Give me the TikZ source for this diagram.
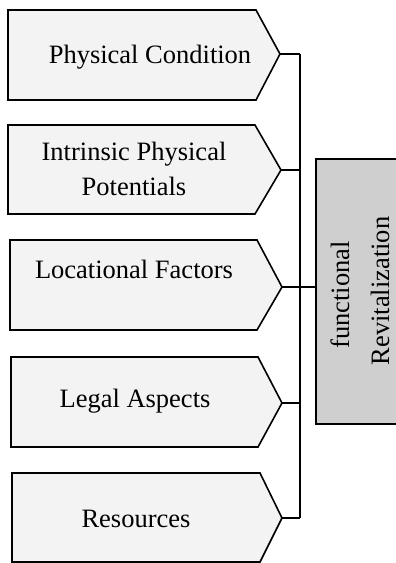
\documentclass[tikz,border=0pt]{standalone}
\usepackage{fontspec}
\setmainfont{Liberation Serif}
\definecolor{boxfill}{HTML}{F3F3F3}
\definecolor{greyfill}{HTML}{CFCFCF}
\begin{document}
\begin{tikzpicture}[x=1pt,y=-1pt,
  pent/.style={draw=black, fill=boxfill, line width=1.6pt, line join=miter},
  bus/.style={draw=black, line width=1.5pt},
  lbl/.style={inner sep=0pt, font=\fontsize{26.5}{32}\selectfont, text=black},
  greybox/.style={draw=black, fill=greyfill, line width=1.6pt, inner sep=0pt}]
\useasboundingbox (0,0) rectangle (396,563);
\begin{scope}
\clip (0,0) rectangle (396,563);
% pentagons
\draw[pent] (8,10) -- (256,10) -- (280,54) -- (256,100) -- (8,100) -- cycle;
\coordinate (tip1) at (280,54);
\draw[pent] (8,125) -- (255,125) -- (281,170) -- (255,214) -- (8,214) -- cycle;
\coordinate (tip2) at (281,170);
\draw[pent] (10,240) -- (257,240) -- (282,287) -- (257,330) -- (10,330) -- cycle;
\coordinate (tip3) at (282,287);
\draw[pent] (11,357) -- (258,357) -- (282,403) -- (258,447) -- (11,447) -- cycle;
\coordinate (tip4) at (282,403);
\draw[pent] (12,473) -- (260,473) -- (282,518) -- (260,562) -- (12,562) -- cycle;
\coordinate (tip5) at (282,518);
% grey box
\node[greybox, anchor=north west, minimum width=100, minimum height=265] (fr) at (315,158) {};
\end{scope}
% labels
\node[lbl, anchor=base] (t1) at (150,63) {Physical Condition};
\node[lbl, anchor=base] (t2a) at (134,160) {Intrinsic Physical};
\node[lbl, anchor=base] (t2b) at (134,195) {Potentials};
\node[lbl, anchor=base] (t3) at (134,278) {Locational Factors};
\node[lbl, anchor=base] (t4) at (135,407) {Legal Aspects};
\node[lbl, anchor=base] (t5) at (136,527) {Resources};
\node[lbl, anchor=base, rotate=90] (f1) at (349,295) {functional};
\node[lbl, anchor=base, rotate=90] (f2) at (389,291) {Revitalization};
% bus
\coordinate (bx1) at (300,54);
\coordinate (bx5) at (300,518);
\draw[bus] (tip1) -- (bx1);
\draw[bus] (tip2) -- (tip2 -| bx1);
\draw[bus] (tip3) -- (tip3 -| fr.west);
\draw[bus] (tip4) -- (tip4 -| bx1);
\draw[bus] (tip5) -- (bx5);
\draw[bus] (bx1) -- (bx5);
\end{tikzpicture}
\end{document}
